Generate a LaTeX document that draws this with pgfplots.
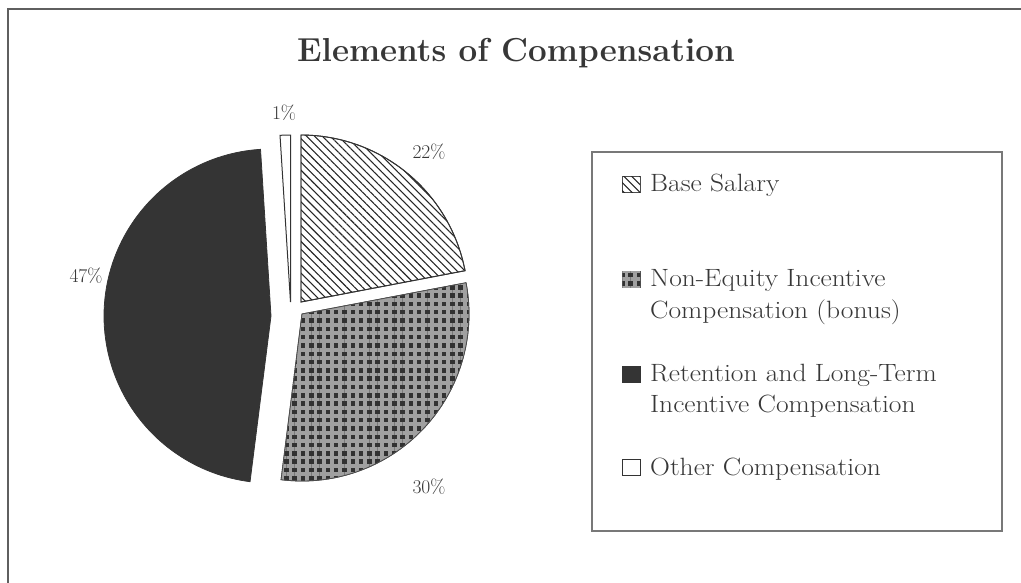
\documentclass[border=0pt]{standalone}
\usepackage{pgfplots}
\pgfplotsset{compat=1.18}
\usepackage{pgfplotstable}
\usetikzlibrary{patterns.meta}

\definecolor{retc}{RGB}{52,52,52}
\definecolor{ncdark}{RGB}{50,50,50}
\definecolor{nclight}{RGB}{160,160,160}
\definecolor{framec}{RGB}{95,95,95}
\definecolor{legc}{RGB}{120,120,120}
\definecolor{txt}{RGB}{55,55,55}

% share (percent) of each slice, clockwise from 12 o'clock,
% and the offset (px) of each exploded slice from the common centre
\pgfplotstableread{
slice value ox oy
Base 22 8 -7
Bonus 30 9 5
Retention 47 -22 7
Other 1 -2.5 -7
}\piedata

\begin{document}
\begin{tikzpicture}[x=1pt,y=1pt]
\useasboundingbox (0,0) rectangle (1021,582);
\clip (0,0) rectangle (1021,582);
% read data
\pgfplotstablegetelem{0}{value}\of\piedata \pgfmathsetmacro\va{\pgfplotsretval}
\pgfplotstablegetelem{1}{value}\of\piedata \pgfmathsetmacro\vb{\pgfplotsretval}
\pgfplotstablegetelem{2}{value}\of\piedata \pgfmathsetmacro\vc{\pgfplotsretval}
\pgfplotstablegetelem{3}{value}\of\piedata \pgfmathsetmacro\vd{\pgfplotsretval}
\pgfmathsetmacro\cx{293}\pgfmathsetmacro\cy{309}\pgfmathsetmacro\R{167}
\pgfplotstablegetelem{0}{ox}\of\piedata \pgfmathsetmacro\ax{\cx+\pgfplotsretval}
\pgfplotstablegetelem{0}{oy}\of\piedata \pgfmathsetmacro\ay{\cy+\pgfplotsretval}
\pgfplotstablegetelem{1}{ox}\of\piedata \pgfmathsetmacro\bx{\cx+\pgfplotsretval}
\pgfplotstablegetelem{1}{oy}\of\piedata \pgfmathsetmacro\by{\cy+\pgfplotsretval}
\pgfplotstablegetelem{2}{ox}\of\piedata \pgfmathsetmacro\ccx{\cx+\pgfplotsretval}
\pgfplotstablegetelem{2}{oy}\of\piedata \pgfmathsetmacro\ccy{\cy+\pgfplotsretval}
\pgfplotstablegetelem{3}{ox}\of\piedata \pgfmathsetmacro\dx{\cx+\pgfplotsretval}
\pgfplotstablegetelem{3}{oy}\of\piedata \pgfmathsetmacro\dy{\cy+\pgfplotsretval}
% angles
\pgfmathsetmacro\sa{90}
\pgfmathsetmacro\ea{\sa-3.6*\va}
\pgfmathsetmacro\eb{\ea-3.6*\vb}
\pgfmathsetmacro\ec{\eb-3.6*\vc}
\pgfmathsetmacro\ed{\ec-3.6*\vd}
\begin{axis}[at={(0,0)},anchor=south west,scale only axis,
  width=1021pt,height=582pt,xmin=0,xmax=1021,ymin=0,ymax=582,
  y dir=reverse,hide axis,clip=false]
% outer frame
\draw[framec,line width=2pt] (axis cs:8,9) rectangle (axis cs:1060,620);
% title
\node[anchor=base,text=txt,font=\fontsize{33.2}{38}\selectfont\bfseries]
  at (axis cs:516,61.5) {Elements of Compensation};
% slices
\addplot[draw=black!80,line width=0.9pt,fill=white,
  postaction={pattern={Lines[angle=-45,distance=5.6pt,line width=1.1pt]},pattern color=black!85},
  domain=\ea:\sa,samples=80,variable=\t]
  ({\ax+\R*cos(\t)},{\ay-\R*sin(\t)}) -- (axis cs:\ax,\ay) -- cycle;
\addplot[draw=black!70,line width=0.8pt,fill=ncdark,
  postaction={pattern={Hatch[distance=8.3pt,angle=0,line width=3.8pt]},pattern color=nclight},
  domain=\eb:\ea,samples=80,variable=\t]
  ({\bx+\R*cos(\t)},{\by-\R*sin(\t)}) -- (axis cs:\bx,\by) -- cycle;
\addplot[draw=retc,line width=0.8pt,fill=retc,
  domain=\ec:\eb,samples=100,variable=\t]
  ({\ccx+\R*cos(\t)},{\ccy-\R*sin(\t)}) -- (axis cs:\ccx,\ccy) -- cycle;
\addplot[draw=black!80,line width=1pt,fill=white,
  domain=\ed:\ec,samples=10,variable=\t]
  ({\dx+\R*cos(\t)},{\dy-\R*sin(\t)}) -- (axis cs:\dx,\dy) -- cycle;
% percent labels
\begin{scope}[every node/.style={text=txt,font=\fontsize{19.5}{22}\selectfont}]
\node at (axis cs:429,152) {22\%};
\node at (axis cs:429,487) {30\%};
\node at (axis cs:86,276) {47\%};
\node at (axis cs:284,113) {1\%};
\end{scope}
% legend
\draw[legc,line width=1.5pt] (axis cs:592,152) rectangle (axis cs:1002,531);
\begin{scope}[every node/.style={anchor=base west,inner sep=0pt,text=txt,font=\fontsize{25}{31}\selectfont}]
\node at (axis cs:650,191.7) {\scalebox{1.1}[1]{Base Salary}};
\node at (axis cs:650,286.7) {\scalebox{1.1}[1]{Non-Equity Incentive}};
\node at (axis cs:650,318.3) {\scalebox{1.1}[1]{Compensation (bonus)}};
\node at (axis cs:650,381.7) {\scalebox{1.1}[1]{Retention and Long-Term}};
\node at (axis cs:650,412.7) {\scalebox{1.1}[1]{Incentive Compensation}};
\node at (axis cs:650,475) {\scalebox{1.1}[1]{Other Compensation}};
\end{scope}
\path[draw=black!70,line width=0.8pt,fill=white,
  postaction={pattern={Lines[angle=-45,distance=5.6pt,line width=1.1pt]},pattern color=black!85}]
  (axis cs:622,176) rectangle (axis cs:640,192);
\path[draw=black!70,line width=0.8pt,fill=ncdark,
  postaction={pattern={Hatch[distance=8.3pt,angle=0,line width=3.8pt,xshift=4pt,yshift=4pt]},pattern color=nclight}]
  (axis cs:622,271) rectangle (axis cs:640,287);
\path[draw=retc,line width=0.8pt,fill=retc] (axis cs:622,366) rectangle (axis cs:640,382);
\path[draw=black!80,line width=1pt,fill=white] (axis cs:622,459) rectangle (axis cs:640,475);
\end{axis}
\end{tikzpicture}
\end{document}
